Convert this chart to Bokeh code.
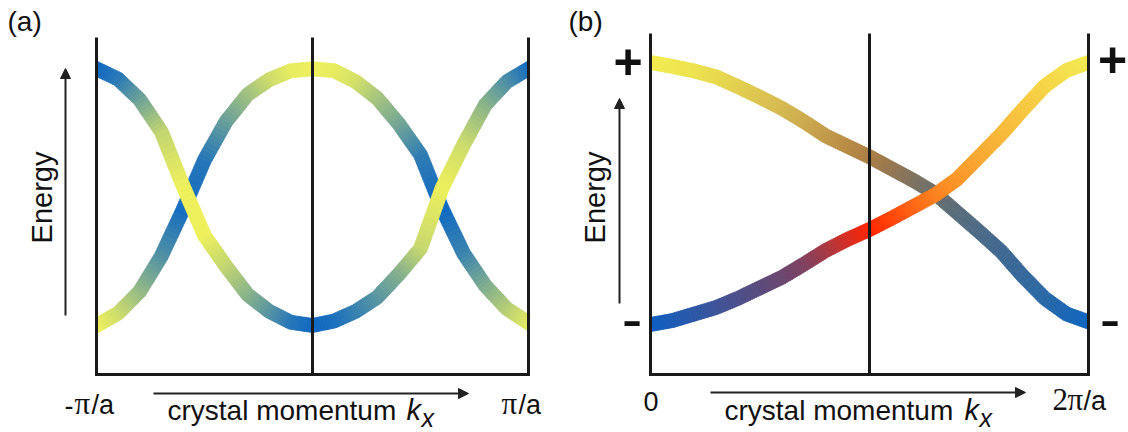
import numpy as np
from bokeh.plotting import figure
from bokeh.layouts import row
from bokeh.models import Label, Arrow, NormalHead, Range1d
from bokeh.embed import file_html
from bokeh.resources import INLINE

# ---------------- data ----------------
# panel (a): crystal momentum in units of pi/a, energy in relative units
k_a = [-1.0, -0.9, -0.8, -0.7, -0.6, -0.5, -0.4, -0.3, -0.2, -0.1, 0.0,
       0.1, 0.2, 0.3, 0.4, 0.5, 0.6, 0.7, 0.8, 0.9, 1.0]
energy_a1 = [1.00, 0.92, 0.76, 0.51, 0.09, -0.30, -0.54, -0.76, -0.89, -0.975, -1.00,
             -0.965, -0.89, -0.78, -0.60, -0.40, 0.07, 0.41, 0.72, 0.90, 1.00]
energy_a2 = [-1.00, -0.905, -0.735, -0.46, -0.10, 0.29, 0.59, 0.80, 0.915, 0.985, 1.00,
             0.985, 0.90, 0.77, 0.57, 0.33, -0.09, -0.44, -0.69, -0.87, -0.98]
# colour mix along each band: 0 = blue, 1 = yellow
mix_a1 = [0.0, 0.12, 0.42, 0.80, 1.0, 1.0, 0.80, 0.55, 0.32, 0.10, 0.0,
          0.05, 0.18, 0.33, 0.52, 0.82, 1.0, 0.85, 0.55, 0.28, 0.03]
mix_a2 = [1.0, 0.85, 0.60, 0.30, 0.03, 0.10, 0.40, 0.65, 0.85, 0.97, 1.0,
          0.97, 0.88, 0.67, 0.45, 0.15, 0.0, 0.20, 0.50, 0.75, 0.95]

# panel (b): crystal momentum in units of pi/a from 0 to 2
k_b = [0.0, 0.1, 0.2, 0.3, 0.4, 0.5, 0.6, 0.7, 0.8, 0.9, 1.0,
       1.1, 1.2, 1.3, 1.4, 1.5, 1.6, 1.7, 1.8, 1.9, 2.0]
energy_b1 = [1.00, 0.97, 0.935, 0.89, 0.815, 0.735, 0.65, 0.55, 0.44, 0.36, 0.28,
             0.19, 0.10, 0.00, -0.145, -0.29, -0.44, -0.63, -0.80, -0.92, -0.98]
energy_b2 = [-1.00, -0.97, -0.92, -0.87, -0.80, -0.72, -0.64, -0.54, -0.435, -0.35, -0.275,
             -0.19, -0.10, -0.01, 0.11, 0.28, 0.45, 0.64, 0.82, 0.94, 1.00]
colors_b1 = ["#F2EC4E", "#F0E84E", "#EDE24E", "#E8D94E", "#E2CF4F", "#DCC450", "#D4B850",
             "#CCAA4E", "#C29A4A", "#B78A44", "#AA7E44", "#957650", "#7E725E", "#686E6C",
             "#586C7A", "#4C6A86", "#406890", "#34689A", "#2868A6", "#1A66B4", "#0E64C0"]
colors_b2 = ["#0A5EC2", "#1C5AB4", "#2C56A6", "#3C5298", "#4A4E8A", "#5A4A7C", "#6A466E",
             "#7E4060", "#A63842", "#D62C22", "#FF2400", "#FF4408", "#FE6614", "#FC821E",
             "#FA9628", "#F8A830", "#F8B838", "#F7C640", "#F6D446", "#F4E04C", "#F3EA50"]

# tick labels, split in pieces: (text, serif?)
ticks_a_left = [("-", False), ("\u03c0", True), ("/a", False)]
ticks_a_right = [("\u03c0", True), ("/a", False)]
ticks_b_left = [("0", False)]
ticks_b_right = [("2", True), ("\u03c0", True), ("/a", False)]
x_title = "crystal momentum"
y_title = "Energy"
panel_names = ["(a)", "(b)"]

# ---------------- styling ----------------
W, H = 564, 432
LINE = "#1a1a1a"
ARROW = "#222222"
TXT = "#111111"
FONT = "Liberation Sans"
SERIF = "Liberation Serif"
BLUE = (14, 104, 194)
YELLOW = (238, 240, 92)
SHIFT = 0.35  # baseline correction, in em


def hex_rgb(h):
    h = h.lstrip("#")
    return tuple(int(h[i:i + 2], 16) for i in (0, 2, 4))


def mix_rgb(t):
    return tuple(BLUE[c] * (1 - t) + YELLOW[c] * t for c in range(3))


def panel(k_lo, k_hi, px_lo, px_hi, py_e_hi, py_e_lo):
    sx = (px_hi - px_lo) / (k_hi - k_lo)
    sy = (py_e_lo - py_e_hi) / 2.0
    x0 = k_lo - px_lo / sx
    x1 = k_hi + (W - px_hi) / sx
    y1 = 1.0 + py_e_hi / sy
    y0 = -1.0 - (H - py_e_lo) / sy
    p = figure(width=W, height=H, x_range=Range1d(x0, x1), y_range=Range1d(y0, y1),
               output_backend="svg", toolbar_location=None, min_border=0,
               x_axis_location=None, y_axis_location=None)
    p.grid.visible = False
    p.outline_line_color = None
    p.background_fill_color = "white"
    p.border_fill_color = "white"

    def X(px):
        return x0 + px / sx

    def Y(py):
        return y1 - py / sy

    return p, sx, sy, X, Y


def band(p, k, e, rgb, sx, sy, half=7.0, sub=10):
    kx = np.asarray(k, float) * sx
    ey = np.asarray(e, float) * sy
    rgb = np.asarray(rgb, float)
    P, C = [], []
    for i in range(len(kx) - 1):
        for j in range(sub):
            t = j / sub
            P.append(((1 - t) * kx[i] + t * kx[i + 1], (1 - t) * ey[i] + t * ey[i + 1]))
            C.append((1 - t) * rgb[i] + t * rgb[i + 1])
    P.append((kx[-1], ey[-1]))
    C.append(rgb[-1])
    P = np.array(P)
    C = np.array(C)
    T = np.zeros_like(P)
    T[1:-1] = P[2:] - P[:-2]
    T[0] = P[1] - P[0]
    T[-1] = P[-1] - P[-2]
    T /= np.linalg.norm(T, axis=1)[:, None]
    N = np.column_stack([-T[:, 1], T[:, 0]])
    up = P + half * N
    dn = P - half * N
    for idx in (0, len(P) - 1):
        d = half / abs(T[idx, 0])
        up[idx] = (P[idx, 0], P[idx, 1] + d)
        dn[idx] = (P[idx, 0], P[idx, 1] - d)
    xs, ys, cols = [], [], []
    for i in range(len(P) - 1):
        qx = [up[i, 0], up[i + 1, 0], dn[i + 1, 0], dn[i, 0]]
        qy = [up[i, 1], up[i + 1, 1], dn[i + 1, 1], dn[i, 1]]
        xs.append([v / sx for v in qx])
        ys.append([v / sy for v in qy])
        c = (C[i] + C[i + 1]) / 2
        cols.append("#%02x%02x%02x" % tuple(int(round(v)) for v in c))
    p.patches(xs, ys, fill_color=cols, line_color=cols, line_width=0.8)


def frame_lines(p, k_lo, k_hi, Y, top, bottom):
    p.multi_line([[k_lo, k_lo, k_hi, k_hi]], [[Y(top), Y(bottom), Y(bottom), Y(top)]],
                 line_color=LINE, line_width=3, line_join="miter")
    km = (k_lo + k_hi) / 2
    p.segment(x0=[km], y0=[Y(bottom)], x1=[km], y1=[Y(top)], line_color=LINE, line_width=3)


def lab(p, X, Y, px, py, text, size, align="left", style="normal", rotated=False, font=FONT):
    # px, py: wanted baseline position in panel pixels (from top-left)
    if rotated:
        px = px - SHIFT * size
    else:
        py = py - SHIFT * size
    p.add_layout(Label(x=X(px), y=Y(py), text=text, text_font=font,
                       text_font_size="%dpx" % size,
                       text_color=TXT, text_align=align, text_baseline="alphabetic",
                       text_font_style=style, angle=(np.pi / 2 if rotated else 0.0)))


def tick_label(p, X, Y, pieces, xs, py, size=27):
    for (txt, serif), x in zip(pieces, xs):
        lab(p, X, Y, x, py, txt, (31 if serif else size), font=(SERIF if serif else FONT))


def arrow(p, xs, ys, xe, ye):
    p.add_layout(Arrow(end=NormalHead(size=10, fill_color=ARROW, line_color=ARROW, line_width=1),
                       x_start=xs, y_start=ys, x_end=xe, y_end=ye,
                       line_color=ARROW, line_width=2))


# ---------------- panel (a) ----------------
pa, sxa, sya, Xa, Ya = panel(k_a[0], k_a[-1], 96, 528, 68.3, 325)
band(pa, k_a, energy_a2, [mix_rgb(t) for t in mix_a2], sxa, sya)
band(pa, k_a, energy_a1, [mix_rgb(t) for t in mix_a1], sxa, sya)
frame_lines(pa, k_a[0], k_a[-1], Ya, 37, 374)
lab(pa, Xa, Ya, 7, 31, panel_names[0], 28)
lab(pa, Xa, Ya, 52, 197, y_title, 29, align="center", rotated=True)
arrow(pa, Xa(65), Ya(315), Xa(65), Ya(68))
arrow(pa, Xa(153), Ya(393), Xa(468), Ya(393))
tick_label(pa, Xa, Ya, ticks_a_left, [64, 74, 91], 414)
tick_label(pa, Xa, Ya, ticks_a_right, [501, 518], 414)
lab(pa, Xa, Ya, 167, 420, x_title, 28)
lab(pa, Xa, Ya, 406, 420, "k", 29, style="italic")
lab(pa, Xa, Ya, 421, 426, "x", 25, style="italic")

# ---------------- panel (b) ----------------
pb, sxb, syb, Xb, Yb = panel(k_b[0], k_b[-1], 86, 524, 62, 324)
band(pb, k_b, energy_b1, [hex_rgb(c) for c in colors_b1], sxb, syb)
band(pb, k_b, energy_b2, [hex_rgb(c) for c in colors_b2], sxb, syb)
frame_lines(pb, k_b[0], k_b[-1], Yb, 33, 374)
lab(pb, Xb, Yb, 4, 31, panel_names[1], 28)
lab(pb, Xb, Yb, 41, 197, y_title, 29, align="center", rotated=True)
arrow(pb, Xb(55), Yb(303), Xb(55), Yb(98))
arrow(pb, Xb(146), Yb(392), Xb(461), Yb(392))
tick_label(pb, Xb, Yb, ticks_b_left, [79], 410)
tick_label(pb, Xb, Yb, ticks_b_right, [488, 503, 519], 410)
lab(pb, Xb, Yb, 160, 420, x_title, 28)
lab(pb, Xb, Yb, 400, 420, "k", 29, style="italic")
lab(pb, Xb, Yb, 415, 426, "x", 25, style="italic")
for (cx, cy) in [(63.5, 62.5), (548, 61)]:
    lab(pb, Xb, Yb, cx, cy + 15.5, "+", 50, align="center", style="bold")
for (cx, cy) in [(67.5, 325), (545.5, 325)]:
    lab(pb, Xb, Yb, cx, cy + 15, "-", 62, align="center")

layout = row(pa, pb)
open("out.html", "w").write(file_html(layout, INLINE))
